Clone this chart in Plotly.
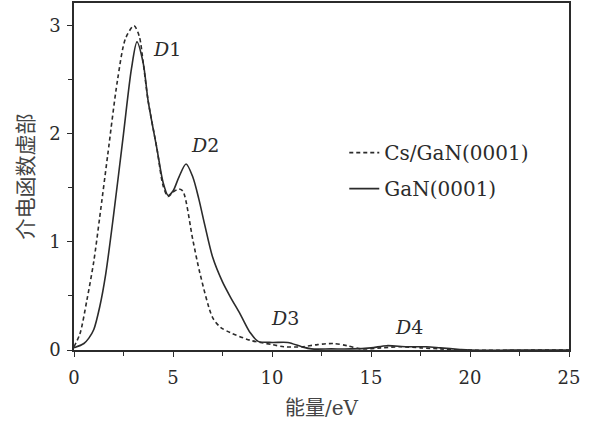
import plotly.graph_objects as go

# GaN(0001) solid curve
gan_x = [0, 0.5, 0.75, 1.0, 1.3, 1.6, 2.0, 2.5, 2.9, 3.18, 3.5, 3.74, 4.2, 4.5, 4.75, 5.0, 5.3, 5.66, 6.0, 6.3, 6.6, 7.0, 7.5, 7.9, 8.4, 8.9, 9.3, 10.0, 10.8, 11.5, 12.0, 13.0, 14.0, 15.0, 15.8, 16.8, 17.8, 18.5, 19.5, 20.0, 25.0]
gan_y = [0.02, 0.06, 0.11, 0.19, 0.4, 0.7, 1.25, 2.0, 2.6, 2.85, 2.65, 2.31, 1.85, 1.55, 1.43, 1.47, 1.6, 1.72, 1.6, 1.4, 1.16, 0.86, 0.63, 0.49, 0.33, 0.16, 0.08, 0.07, 0.07, 0.03, 0.01, 0.01, 0.01, 0.02, 0.04, 0.03, 0.03, 0.02, 0.005, 0.0, 0.0]

# Cs/GaN(0001) dashed curve
cs_x = [0, 0.3, 0.65, 1.0, 1.3, 1.7, 2.2, 2.6, 3.03, 3.3, 3.5, 3.74, 4.2, 4.5, 4.75, 5.0, 5.3, 5.5, 6.0, 6.36, 7.0, 7.4, 7.9, 8.9, 10.0, 10.6, 11.5, 12.3, 13.1, 13.8, 14.5, 15.5, 16.5, 17.5, 18.5, 19.5, 25.0]
cs_y = [0.03, 0.15, 0.46, 0.82, 1.23, 1.8, 2.5, 2.88, 3.0, 2.9, 2.65, 2.31, 1.85, 1.52, 1.42, 1.46, 1.49, 1.47, 1.02, 0.71, 0.3, 0.21, 0.16, 0.09, 0.05, 0.03, 0.03, 0.05, 0.06, 0.04, 0.01, 0.02, 0.03, 0.02, 0.01, 0.0, 0.0]

peak_labels = ["D1", "D2", "D3", "D4"]
peak_x = [4.7, 6.6, 10.65, 16.9]
peak_y = [2.78, 1.9, 0.3, 0.21]

x_ticks = [0, 5, 10, 15, 20, 25]
y_ticks = [0, 1, 2, 3]

serif = "DejaVu Serif, Liberation Serif, serif"
cjk = "Noto Sans CJK SC, sans-serif"
ink = "#2b2b2b"

fig = go.Figure()
fig.add_trace(go.Scatter(x=cs_x, y=cs_y, mode="lines", name="Cs/GaN(0001)", legendgroup="a",
                         line=dict(color=ink, width=1.6, dash="4px,3px", shape="spline", smoothing=0.8)))
fig.add_trace(go.Scatter(x=gan_x, y=gan_y, mode="lines", name="GaN(0001)", legendgroup="b",
                         line=dict(color=ink, width=1.6, shape="spline", smoothing=0.8)))

for lab, px, py in zip(peak_labels, peak_x, peak_y):
    fig.add_annotation(x=px, y=py, text="<i>D</i>" + lab[1:], showarrow=False,
                       font=dict(family=serif, size=19, color=ink))

fig.update_layout(
    width=600, height=425,
    margin=dict(l=74, r=31, t=3, b=75),
    paper_bgcolor="white", plot_bgcolor="white",
    font=dict(family=serif, color=ink, size=18),
    legend=dict(x=0.546, y=0.625, xanchor="left", yanchor="top",
                bgcolor="rgba(0,0,0,0)", font=dict(family=serif, size=20, color=ink),
                itemwidth=30, tracegroupgap=7),
    showlegend=True,
)
fig.update_xaxes(range=[0, 25], tickvals=x_ticks, ticks="outside", ticklen=5, tickwidth=1.3,
                 tickcolor=ink, showline=True, linecolor=ink, linewidth=1.5, mirror=True,
                 showgrid=False, zeroline=False, automargin=False, ticklabelstandoff=6,
                 minor=dict(tickvals=[2.5, 7.5, 12.5, 17.5, 22.5], ticks="outside", ticklen=4, tickcolor=ink, tickwidth=1.3),
                 title=dict(text="能量<span style='font-family:DejaVu Serif'>/eV</span>",
                            font=dict(family=cjk, size=20, color="#444"), standoff=14),
                 tickfont=dict(family=serif, size=18, color=ink))
fig.update_yaxes(range=[0, 3.21], tickvals=y_ticks, ticks="outside", ticklen=5, tickwidth=1.3,
                 tickcolor=ink, showline=True, linecolor=ink, linewidth=1.5, mirror=True,
                 showgrid=False, zeroline=False, automargin=False, ticklabelstandoff=3,
                 minor=dict(tickvals=[0.5, 1.5, 2.5], ticks="outside", ticklen=4, tickcolor=ink, tickwidth=1.3),
                 title=dict(text="介电函数虚部", font=dict(family=cjk, size=21, color="#444"), standoff=10),
                 tickfont=dict(family=serif, size=18, color=ink))

fig.write_html("out.html", config={"displayModeBar": False},
               post_script="document.body.style.margin='0';")
